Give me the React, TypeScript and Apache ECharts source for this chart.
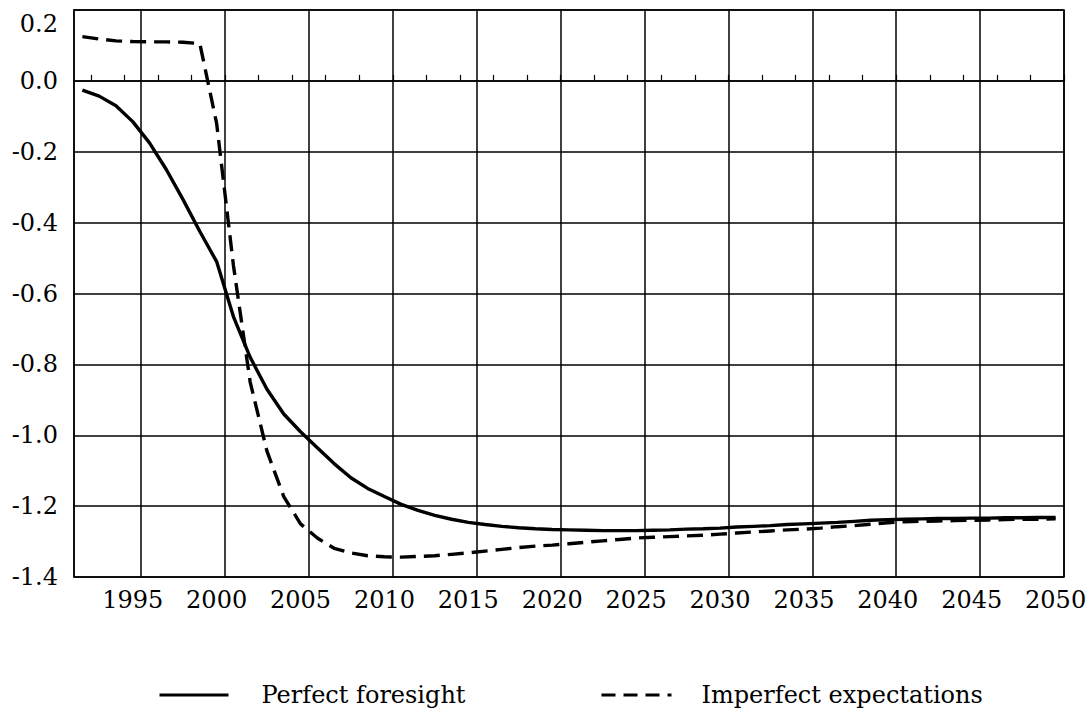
import React, { useEffect, useRef } from "react";
import * as echarts from "echarts";

const years: string[] = [];
for (let y = 1992; y <= 2050; y++) years.push(String(y));

const perfectForesight = [
  -0.026, -0.043, -0.07, -0.115, -0.175, -0.25, -0.335, -0.425, -0.51,
  -0.665, -0.78, -0.87, -0.94, -0.99, -1.035, -1.08, -1.12, -1.15, -1.173,
  -1.195, -1.212, -1.226, -1.237, -1.246, -1.252, -1.257, -1.261, -1.264,
  -1.266, -1.267, -1.268, -1.269, -1.269, -1.269, -1.268, -1.267, -1.265,
  -1.264, -1.262, -1.259, -1.257, -1.255, -1.252, -1.25, -1.248, -1.246,
  -1.243, -1.24, -1.238, -1.237, -1.236, -1.235, -1.235, -1.234, -1.234,
  -1.233, -1.233, -1.232, -1.232,
];

const imperfectExpectations = [
  0.125, 0.118, 0.113, 0.111, 0.11, 0.11, 0.109, 0.105, -0.12, -0.52, -0.85,
  -1.045, -1.173, -1.25, -1.29, -1.319, -1.332, -1.34, -1.343, -1.344,
  -1.342, -1.34, -1.336, -1.332, -1.327, -1.322, -1.317, -1.313, -1.31,
  -1.306, -1.302, -1.298, -1.294, -1.29, -1.288, -1.286, -1.284, -1.282,
  -1.279, -1.276, -1.273, -1.27, -1.267, -1.265, -1.262, -1.258, -1.255,
  -1.251, -1.247, -1.244, -1.243, -1.242, -1.241, -1.24, -1.239, -1.238,
  -1.237, -1.237, -1.236,
];

const seriesNames = ["Perfect foresight", "Imperfect expectations"];

const FONT = "DejaVu Serif";
const FS = 24;

export default function App() {
  const ref = useRef<HTMLDivElement>(null);
  useEffect(() => {
    if (!ref.current) return;
    const chart = echarts.init(ref.current, null, { renderer: "svg" });
    const legendBase = {
      top: 678,
      itemHeight: 14,
      itemStyle: { opacity: 0, color: "transparent", borderWidth: 0 },
    };
    chart.setOption({
      animation: false,
      backgroundColor: "#fff",
      textStyle: { fontFamily: FONT },
      grid: {
        left: 74,
        right: 27,
        top: 10,
        bottom: 136,
        show: true,
        borderColor: "#000",
        borderWidth: 1.5,
      },
      xAxis: {
        type: "category",
        data: years,
        boundaryGap: true,
        axisLine: { show: true, lineStyle: { color: "#000", width: 1.5 } },
        axisTick: {
          show: true,
          inside: true,
          length: 6,
          interval: (index: number) => index % 2 === 1,
          lineStyle: { color: "#000", width: 1.2 },
        },
        axisLabel: {
          interval: (_i: number, v: string) => Number(v) % 5 === 0,
          color: "#000",
          fontFamily: FONT,
          fontSize: FS,
          margin: 11,
        },
        splitLine: {
          show: true,
          interval: (_i: number, v: string) => Number(v) % 5 === 1,
          lineStyle: { color: "#000", width: 1.5 },
        },
      },
      yAxis: {
        type: "value",
        min: -1.4,
        max: 0.2,
        interval: 0.2,
        axisLine: { show: true, lineStyle: { color: "#000", width: 1.5 } },
        axisTick: { show: false },
        axisLabel: {
          color: "#000",
          fontFamily: FONT,
          fontSize: FS,
          margin: 16,
          formatter: (v: number) => {
            const s = Math.abs(v) < 1e-9 ? "0.0" : v.toFixed(1);
            return v > 0.15 ? "{t|" + s + "}" : s;
          },
          rich: {
            t: {
              fontFamily: FONT,
              fontSize: FS,
              color: "#000",
              padding: [28, 0, 0, 0],
            },
          },
        },
        splitLine: { show: true, lineStyle: { color: "#000", width: 1.5 } },
      },
      legend: [
        {
          ...legendBase,
          data: [seriesNames[0]],
          left: 153,
          itemWidth: 69,
          lineStyle: { color: "#000", width: 3, type: "solid" },
          textStyle: {
            fontFamily: FONT,
            fontSize: FS,
            color: "#000",
            padding: [0, 0, 0, 28],
          },
        },
        {
          ...legendBase,
          data: [seriesNames[1]],
          left: 595,
          itemWidth: 70,
          lineStyle: { color: "#000", width: 3, type: [14, 8] },
          textStyle: {
            fontFamily: FONT,
            fontSize: FS,
            color: "#000",
            padding: [0, 0, 0, 25],
          },
        },
      ],
      series: [
        {
          name: seriesNames[0],
          type: "line",
          data: perfectForesight,
          symbol: "none",
          smooth: false,
          lineStyle: { color: "#000", width: 3.4, type: "solid" },
          itemStyle: { color: "#000" },
        },
        {
          name: seriesNames[1],
          type: "line",
          data: imperfectExpectations,
          symbol: "none",
          smooth: false,
          lineStyle: { color: "#000", width: 3.4, type: [16, 8] },
          itemStyle: { color: "#000" },
        },
      ],
    });
    return () => chart.dispose();
  }, []);
  return (
    <div
      ref={ref}
      style={{ position: "fixed", left: 0, top: 0, width: 1091, height: 713 }}
    />
  );
}
